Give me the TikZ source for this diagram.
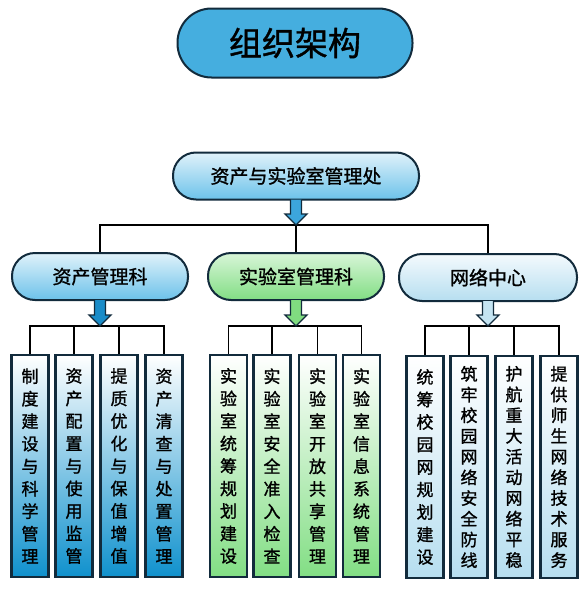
\documentclass[tikz,border=0pt]{standalone}
\usepackage{fontspec}
\newfontfamily\cjk{Noto Sans CJK SC}[FakeBold=1.2]
\usetikzlibrary{calc}

\definecolor{edgenavy}{HTML}{122B3C}
\definecolor{titleblue}{HTML}{45AEDF}
\definecolor{skytop}{HTML}{E0F2FA}
\definecolor{skybottom}{HTML}{6CC2EA}
\definecolor{assetmid}{HTML}{30A6DA}
\definecolor{assetdeep}{HTML}{0F91CD}
\definecolor{labtop}{HTML}{D8F5D8}
\definecolor{labmid}{HTML}{9CE69C}
\definecolor{labdeep}{HTML}{82DE84}
\definecolor{nettop}{HTML}{F4FAFD}
\definecolor{netmid}{HTML}{CBE8F5}
\definecolor{netdeep}{HTML}{B6DEF0}
\definecolor{arrowmain}{HTML}{3CA6DC}
\definecolor{arrowasset}{HTML}{1A8CC8}
\definecolor{arrowlab}{HTML}{80DC80}
\definecolor{arrownet}{HTML}{C4E4F2}

\tikzset{
  titlebox/.style={draw=edgenavy, line width=2pt, fill=titleblue, rounded corners=34pt,
    minimum width=235pt, minimum height=69pt, font=\cjk\fontsize{33}{36}\selectfont},
  pill/.style={draw=edgenavy, line width=2pt, rounded corners=23pt,
    minimum width=176pt, minimum height=47pt, font=\cjk\fontsize{19}{21}\selectfont},
  leaf/.style={draw=edgenavy, line width=2.4pt, minimum width=37pt, minimum height=222pt,
    inner sep=0pt, align=center, font=\cjk\fontsize{17}{22.5}\selectfont},
  leafdense/.style={leaf, font=\cjk\fontsize{17}{20.7}\selectfont},
  link/.style={line width=1.8pt, black},
  fatline/.style={draw=edgenavy, line width=1.4pt, line join=miter},
}

% block arrow from a node down to a bus line
\newcommand{\fatarrow}[3]{%
  \path (#1.south) coordinate (fa-top) (#1.south |- #2) coordinate (fa-tip);
  \draw[fatline, fill=#3] ($(fa-top)+(-5.5,-1)$) -- ($(fa-tip)+(-5.5,-11)$) -- ($(fa-tip)+(-11,-11)$)
    -- (fa-tip) -- ($(fa-tip)+(11,-11)$) -- ($(fa-tip)+(5.5,-11)$) -- ($(fa-top)+(5.5,-1)$);}

\begin{document}
\begin{tikzpicture}[x=1pt,y=-1pt]
    \fill[white] (0,0) rectangle (588,589);
    \useasboundingbox (0,0) rectangle (588,589);

    \node[titlebox] (org) at (295,43) {组织架构};
    \node[pill, minimum width=246pt, top color=skytop, bottom color=skybottom] (office) at (296,176) {资产与实验室管理处};

    \node[pill, top color=skytop, bottom color=skybottom] (assets) at (100,276.5) {资产管理科};
    \node[pill, top color=labtop, bottom color=labdeep] (lab) at (296,276.5) {实验室管理科};
    \node[pill, minimum width=178pt, top color=nettop, bottom color=netdeep] (net) at (488,277.5) {网络中心};

    % asset leaves
    \node[leaf, top color=white, middle color=assetmid, bottom color=assetdeep] (a1) at (30,466) {制\\度\\建\\设\\与\\科\\学\\管\\理};
    \node[leaf, top color=white, middle color=assetmid, bottom color=assetdeep] (a2) at (74,466) {资\\产\\配\\置\\与\\使\\用\\监\\管};
    \node[leaf, top color=white, middle color=assetmid, bottom color=assetdeep] (a3) at (119,466) {提\\质\\优\\化\\与\\保\\值\\增\\值};
    \node[leaf, top color=white, middle color=assetmid, bottom color=assetdeep] (a4) at (164,466) {资\\产\\清\\查\\与\\处\\置\\管\\理};

    % lab leaves
    \node[leaf, top color=white, middle color=labmid, bottom color=labdeep] (l1) at (228.5,466) {实\\验\\室\\统\\筹\\规\\划\\建\\设};
    \node[leaf, top color=white, middle color=labmid, bottom color=labdeep] (l2) at (272,466) {实\\验\\室\\安\\全\\准\\入\\检\\查};
    \node[leaf, top color=white, middle color=labmid, bottom color=labdeep] (l3) at (317.5,466) {实\\验\\室\\开\\放\\共\\享\\管\\理};
    \node[leaf, top color=white, middle color=labmid, bottom color=labdeep] (l4) at (361.5,466) {实\\验\\室\\信\\息\\系\\统\\管\\理};

    % network leaves
    \node[leaf, top color=white, middle color=netmid, bottom color=netdeep] (n1) at (425,467) {统\\筹\\校\\园\\网\\规\\划\\建\\设};
    \node[leafdense, top color=white, middle color=netmid, bottom color=netdeep] (n2) at (469,467) {筑\\牢\\校\\园\\网\\络\\安\\全\\防\\线};
    \node[leafdense, top color=white, middle color=netmid, bottom color=netdeep] (n3) at (514,467) {护\\航\\重\\大\\活\\动\\网\\络\\平\\稳};
    \node[leafdense, top color=white, middle color=netmid, bottom color=netdeep] (n4) at (559,467) {提\\供\\师\\生\\网\\络\\技\\术\\服\\务};

    \coordinate (busTop) at (296,225);
    \coordinate (busAsset) at (98,326);
    \coordinate (busLab) at (296,326);
    \coordinate (busNet) at (490,326);

    \draw[link] (assets.north) |- (busTop) -| (net.north);
    \draw[link] (lab.north) -- (lab.north |- busTop);

    \draw[link] (a1.north) |- (busAsset) -| (a4.north);
    \draw[link] (a2.north) -- (a2.north |- busAsset);
    \draw[link] (a3.north) -- (a3.north |- busAsset);

    \draw[link] (l1.north) |- (busLab) -| (l4.north);
    \draw[link] (l2.north) -- (l2.north |- busLab);
    \draw[link] (l3.north) -- (l3.north |- busLab);

    \draw[link] (n1.north) |- (busNet) -| (n4.north);
    \draw[link] (n2.north) -- (n2.north |- busNet);
    \draw[link] (n3.north) -- (n3.north |- busNet);

    \fatarrow{office}{busTop}{arrowmain}
    \fatarrow{assets}{busAsset}{arrowasset}
    \fatarrow{lab}{busLab}{arrowlab}
    \fatarrow{net}{busNet}{arrownet}
\end{tikzpicture}
\end{document}
